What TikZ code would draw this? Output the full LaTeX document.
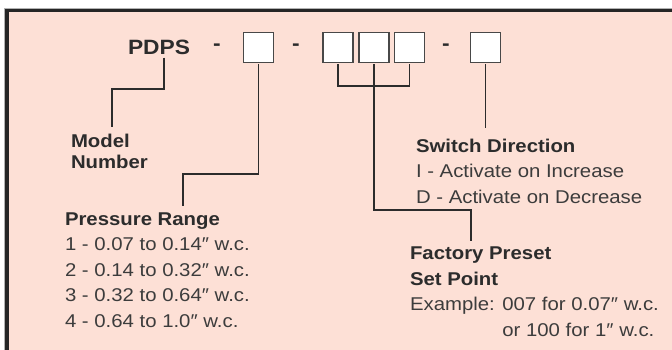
\documentclass[tikz,border=0pt]{standalone}
\usepackage{fontspec}
\usepackage{xcolor}
\usepackage{tikz}
\newfontfamily\codefont{Liberation Sans}[FakeStretch=1.1]
\definecolor{SheetPink}{HTML}{FDE0D6}
\definecolor{FrameInk}{HTML}{252525}
\definecolor{BoxEdge}{HTML}{484848}
\definecolor{Ink}{HTML}{2C2C2C}
\definecolor{SoftInk}{HTML}{3C3C3C}

\begin{document}
\begin{tikzpicture}[x=1pt,y=-1pt,
  digitbox/.style={draw=BoxEdge,line width=1.3pt,fill=white,minimum size=30pt,inner sep=0pt,outer sep=2pt},
  code/.style={font=\codefont\fontsize{20.7}{24}\selectfont\bfseries,text=Ink,inner sep=0pt,outer sep=3pt},
  legend/.style={align=left,anchor=north west,inner sep=0pt,outer xsep=0pt,outer ysep=7pt,text=SoftInk,font=\codefont\fontsize{18.5}{25.5}\selectfont},
  link/.style={line width=1.2pt,draw=Ink}
]
\useasboundingbox (0,0) rectangle (672,350);
\fill[white] (0,0) rectangle (672,350);
\draw[black!30,line width=0.8pt] (4.6,8.2) rectangle (700,380);
\draw[FrameInk,line width=3.5pt,fill=SheetPink] (7,10.5) rectangle (700,380);

\node[code,anchor=base west] (pdps) at (125,54.3) {PDPS};
\node[code,anchor=base] (dash1) at (217,51) {-};
\node[code,anchor=base] (dash2) at (296,51) {-};
\node[code,anchor=base] (dash3) at (446,51) {-};
\node[digitbox] (box1) at (258.5,47.5) {};
\node[digitbox] (box2) at (338,47.5) {};
\node[digitbox] (box3) at (374,47.5) {};
\node[digitbox] (box4) at (409.5,47.5) {};
\node[digitbox] (box5) at (485.5,47.5) {};

\node[legend,font=\codefont\fontsize{18.5}{21}\selectfont\bfseries,text=Ink] (model) at (71,127.5) {Model\\Number};
\node[legend] (prange) at (65,205.5) {\textbf{\color{Ink}Pressure Range}\\1 - 0.07 to 0.14″ w.c.\\2 - 0.14 to 0.32″ w.c.\\3 - 0.32 to 0.64″ w.c.\\4 - 0.64 to 1.0″ w.c.};
\node[legend,outer ysep=10.5pt] (switch) at (416,128.5) {\textbf{\color{Ink}Switch Direction}\\I - Activate on Increase\\D - Activate on Decrease};
\node[legend,outer ysep=6.5pt] (factory) at (410,240.5) {\textbf{\color{Ink}Factory Preset}\\\textbf{\color{Ink}Set Point}\\Example: 007 for 0.07″ w.c.\\\hphantom{Example: }or 100 for 1″ w.c.};

\coordinate (mbend) at (112,89);
\coordinate (pbend) at (183,174);
\coordinate (fbrack) at (374,86);
\coordinate (fbend) at (471,210);

\draw[link] ([xshift=5pt]pdps.south) |- (mbend) -- (mbend |- model.north);
\draw[link] (box1.south) |- (pbend) -- (pbend |- prange.north);
\draw[link] (box2.south) |- (fbrack) -| (box4.south);
\draw[link] (box3.south) |- (fbend) -- (fbend |- factory.north);
\draw[link] (box5.south) -- (box5.south |- switch.north);
\end{tikzpicture}
\end{document}
